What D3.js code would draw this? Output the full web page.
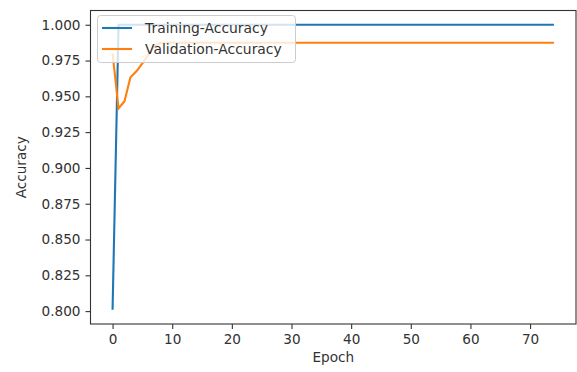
<!DOCTYPE html>
<html>
<head>
	<meta charset="utf-8">
	<title>Accuracy</title>
	<script type="text/javascript" src="https://cdn.jsdelivr.net/npm/d3@7"></script>
	<style>
		body { margin: 0; background: #fff; }
		text { font-family: "DejaVu Sans", sans-serif; fill: #333; }
	</style>
</head>
<body>
<div id="chart"></div>
<script type="text/javascript">

/* values, one per epoch (0..74) */
var epochs = d3.range(0, 75);
var trainAcc = [
	0.801, 1.0, 1.0, 1.0, 1.0, 1.0, 1.0, 1.0, 1.0, 1.0,
	1.0, 1.0, 1.0, 1.0, 1.0, 1.0, 1.0, 1.0, 1.0, 1.0,
	1.0, 1.0, 1.0, 1.0, 1.0, 1.0, 1.0, 1.0, 1.0, 1.0,
	1.0, 1.0, 1.0, 1.0, 1.0, 1.0, 1.0, 1.0, 1.0, 1.0,
	1.0, 1.0, 1.0, 1.0, 1.0, 1.0, 1.0, 1.0, 1.0, 1.0,
	1.0, 1.0, 1.0, 1.0, 1.0, 1.0, 1.0, 1.0, 1.0, 1.0,
	1.0, 1.0, 1.0, 1.0, 1.0, 1.0, 1.0, 1.0, 1.0, 1.0,
	1.0, 1.0, 1.0, 1.0, 1.0
];
var valAcc = [
	0.980, 0.9415, 0.9466, 0.9633, 0.9675, 0.973, 0.979, 0.985, 0.9874, 0.9874,
	0.9874, 0.9874, 0.9874, 0.9874, 0.9874, 0.9874, 0.9874, 0.9874, 0.9874, 0.9874,
	0.9874, 0.9874, 0.9874, 0.9874, 0.9874, 0.9874, 0.9874, 0.9874, 0.9874, 0.9874,
	0.9874, 0.9874, 0.9874, 0.9874, 0.9874, 0.9874, 0.9874, 0.9874, 0.9874, 0.9874,
	0.9874, 0.9874, 0.9874, 0.9874, 0.9874, 0.9874, 0.9874, 0.9874, 0.9874, 0.9874,
	0.9874, 0.9874, 0.9874, 0.9874, 0.9874, 0.9874, 0.9874, 0.9874, 0.9874, 0.9874,
	0.9874, 0.9874, 0.9874, 0.9874, 0.9874, 0.9874, 0.9874, 0.9874, 0.9874, 0.9874,
	0.9874, 0.9874, 0.9874, 0.9874, 0.9874
];
var xTicks = [0, 10, 20, 30, 40, 50, 60, 70];
var yTicks = [0.800, 0.825, 0.850, 0.875, 0.900, 0.925, 0.950, 0.975, 1.000];
var seriesNames = ["Training-Accuracy", "Validation-Accuracy"];
var seriesColors = ["#1f77b4", "#ff7f0e"];

var W = 577, H = 372;
/* plot frame (note: "top" is taken by window.top, so use pL/pR/pT/pB) */
var pL = 90.5, pR = 576, pT = 10.5, pB = 324;

var svg = d3.select("#chart").append("svg")
	.attr("width", W).attr("height", H);

var x = d3.scaleLinear().domain([-3.7, 77.7]).range([pL, pR]);
var y = d3.scaleLinear().domain([0.791, 1.00995]).range([pB, pT]);

var font = 13.6;

/* axes */
var xAxis = svg.append("g")
	.attr("transform", "translate(0," + pB + ")")
	.call(d3.axisBottom(x).tickValues(xTicks).tickSize(5).tickPadding(5).tickFormat(d3.format("d")));
var yAxis = svg.append("g")
	.attr("transform", "translate(" + pL + ",0)")
	.call(d3.axisLeft(y).tickValues(yTicks).tickSize(5).tickPadding(5).tickFormat(d3.format(".3f")));

[xAxis, yAxis].forEach(function(a) {
	a.select(".domain").remove();
	a.selectAll("line").attr("stroke", "#333").attr("stroke-width", 1.1);
	a.selectAll("text").style("font-size", font + "px").attr("fill", "#333");
});

/* lines */
var line = d3.line()
	.x(function(d) { return x(d[0]); })
	.y(function(d) { return y(d[1]); });

[trainAcc, valAcc].forEach(function(vals, i) {
	svg.append("path")
		.datum(epochs.map(function(e, j) { return [e, vals[j]]; }))
		.attr("d", line)
		.attr("fill", "none")
		.attr("stroke", seriesColors[i])
		.attr("stroke-width", 2.1);
});

/* frame */
svg.append("rect")
	.attr("x", pL).attr("y", pT)
	.attr("width", pR - pL).attr("height", pB - pT)
	.attr("fill", "none").attr("stroke", "#333").attr("stroke-width", 1.1);

/* legend */
var lg = svg.append("g");
lg.append("rect")
	.attr("x", 97.5).attr("y", 15.5)
	.attr("width", 198).attr("height", 47)
	.attr("rx", 3)
	.attr("fill", "#fff").attr("fill-opacity", 0.8)
	.attr("stroke", "#cccccc");
seriesNames.forEach(function(name, i) {
	var yy = 28 + i * 21;
	lg.append("line")
		.attr("x1", 102).attr("x2", 132)
		.attr("y1", yy).attr("y2", yy)
		.attr("stroke", seriesColors[i]).attr("stroke-width", 2.1);
	lg.append("text")
		.attr("x", 145).attr("y", yy)
		.attr("dy", "0.35em")
		.style("font-size", "13.9px")
		.text(name);
});

/* axis titles */
svg.append("text")
	.attr("x", (pL + pR) / 2).attr("y", 362)
	.attr("text-anchor", "middle")
	.style("font-size", font + "px")
	.text("Epoch");
svg.append("text")
	.attr("transform", "translate(26," + ((pT + pB) / 2) + ") rotate(-90)")
	.attr("text-anchor", "middle")
	.style("font-size", font + "px")
	.text("Accuracy");

</script>
</body>
</html>
